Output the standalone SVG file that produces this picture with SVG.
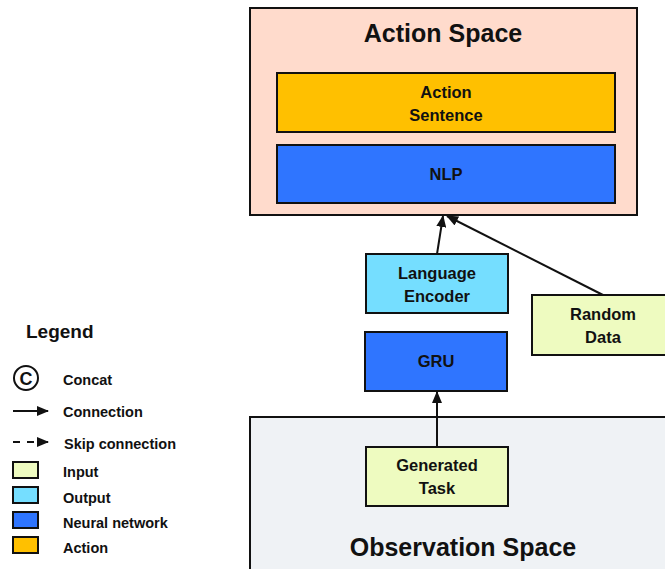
<svg xmlns="http://www.w3.org/2000/svg" width="665" height="569" viewBox="0 0 665 569">
<style>
text{font-family:"Liberation Sans",Arial,sans-serif;font-weight:bold;fill:#111}
.box{stroke:#111;stroke-width:2}
.lbl{font-size:16.5px;text-anchor:middle}
.leg{font-size:14.5px}
.conn{stroke:#111;stroke-width:2;fill:none}
.in{fill:#EEFBC0}.out{fill:#75DEFF}.nn{fill:#2F75FF}.act{fill:#FFC000}
</style>
<defs>
<marker id="ah" markerWidth="12" markerHeight="10" refX="11" refY="5" orient="auto" markerUnits="userSpaceOnUse">
<path d="M0,0 L12,5 L0,10 z" fill="#111"/>
</marker>
</defs>
<rect width="665" height="569" fill="#fff"/>
<g id="observation-space">
<rect class="box" x="250" y="417" width="430" height="170" fill="#EFF2F5"/>
<text x="463" y="556" font-size="25" text-anchor="middle">Observation Space</text>
</g>
<g id="action-space">
<rect class="box" x="250" y="8" width="387" height="207" fill="#FFDBCC"/>
<text x="443" y="42" font-size="25" text-anchor="middle">Action Space</text>
</g>
<g id="action-sentence">
<rect class="box act" x="277" y="73" width="338" height="59"/>
<text class="lbl" x="446" y="98">Action</text>
<text class="lbl" x="446" y="121">Sentence</text>
</g>
<g id="nlp">
<rect class="box nn" x="277" y="145" width="338" height="58"/>
<text class="lbl" x="446" y="180">NLP</text>
</g>
<g id="language-encoder">
<rect class="box out" x="366" y="254" width="142" height="59"/>
<text class="lbl" x="437" y="279">Language</text>
<text class="lbl" x="437" y="302">Encoder</text>
</g>
<g id="random-data">
<rect class="box in" x="532" y="295" width="142" height="60"/>
<text class="lbl" x="603" y="320">Random</text>
<text class="lbl" x="603" y="343">Data</text>
</g>
<g id="gru">
<rect class="box nn" x="365" y="332" width="142" height="59"/>
<text class="lbl" x="436" y="367">GRU</text>
</g>
<g id="generated-task">
<rect class="box in" x="366" y="447" width="142" height="59"/>
<text class="lbl" x="437" y="471">Generated</text>
<text class="lbl" x="437" y="494">Task</text>
</g>
<g id="connectors">
<line class="conn" x1="437" y1="254" x2="443" y2="216" marker-end="url(#ah)"/>
<line class="conn" x1="603" y1="295" x2="447" y2="216" marker-end="url(#ah)"/>
<line class="conn" x1="437" y1="447" x2="437" y2="392" marker-end="url(#ah)"/>
</g>
<g id="legend">
<text x="26" y="338" font-size="19">Legend</text>
<circle cx="26" cy="378" r="12" fill="none" stroke="#111" stroke-width="2"/>
<text x="26" y="384.5" font-size="18" text-anchor="middle">C</text>
<text class="leg" x="63" y="385">Concat</text>
<line class="conn" x1="13" y1="411" x2="48" y2="411" marker-end="url(#ah)"/>
<text class="leg" x="63" y="417">Connection</text>
<line class="conn" x1="13" y1="442" x2="48" y2="442" stroke-dasharray="7,7" marker-end="url(#ah)"/>
<text class="leg" x="64" y="449">Skip connection</text>
<rect class="box in" x="13" y="462" width="25" height="16"/>
<text class="leg" x="63" y="477">Input</text>
<rect class="box out" x="13" y="487" width="25" height="16"/>
<text class="leg" x="63" y="503">Output</text>
<rect class="box nn" x="13" y="512" width="25" height="16"/>
<text class="leg" x="63" y="528">Neural network</text>
<rect class="box act" x="13" y="537" width="25" height="16"/>
<text class="leg" x="63" y="553">Action</text>
</g>
</svg>
